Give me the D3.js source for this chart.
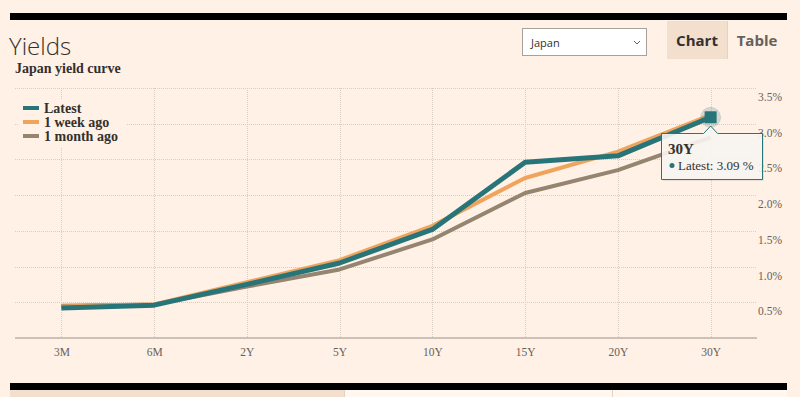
<!DOCTYPE html>
<html>
<head>
<meta charset="utf-8">
<script src="https://cdn.jsdelivr.net/npm/d3@7"></script>
<style>
  html, body { margin: 0; padding: 0; background: #fff1e5; }
  svg { display: block; }
</style>
</head>
<body>
<div id="chart"></div>
<script>
const tenors = ['3M', '6M', '2Y', '5Y', '10Y', '15Y', '20Y', '30Y'];
const latest = [0.42, 0.46, 0.75, 1.05, 1.52, 2.46, 2.55, 3.09];
const weekAgo = [0.44, 0.47, 0.78, 1.09, 1.57, 2.24, 2.61, 3.12];
const monthAgo = [0.45, 0.47, 0.72, 0.96, 1.38, 2.03, 2.35, 2.81];
const yTicks = [0.5, 1, 1.5, 2, 2.5, 3, 3.5];
const seriesNames = ['Latest', '1 week ago', '1 month ago'];
const seriesColors = ['#277479', '#f0a35c', '#958570'];

const W = 800, H = 397;
const serif = "Georgia, 'Liberation Serif', serif";
const sans = "'Open Sans', 'Noto Sans', sans-serif";

const svg = d3.select('#chart').append('svg')
  .attr('width', W)
  .attr('height', H);

svg.append('rect').attr('width', W).attr('height', H).attr('fill', '#fff1e5');

// header
svg.append('rect').attr('x', 10).attr('y', 13).attr('width', 777).attr('height', 7).attr('fill', '#000');
svg.append('text').attr('x', 9).attr('y', 55)
  .attr('font-family', sans).attr('font-weight', 300).attr('font-size', 24)
  .attr('fill', '#33302e').text('Yields');
svg.append('text').attr('x', 15).attr('y', 73)
  .attr('font-family', serif).attr('font-weight', 'bold').attr('font-size', 14)
  .attr('fill', '#33302e').text('Japan yield curve');

// dropdown
svg.append('rect').attr('x', 522.5).attr('y', 28.5).attr('width', 124).attr('height', 27)
  .attr('fill', '#fff').attr('stroke', '#a7a19b');
svg.append('text').attr('x', 531).attr('y', 47)
  .attr('font-family', sans).attr('font-size', 11).attr('fill', '#33302e').text('Japan');
svg.append('path').attr('d', 'M634,41 l3,3 l3,-3')
  .attr('fill', 'none').attr('stroke', '#66605c').attr('stroke-width', 1);

// tabs
svg.append('rect').attr('x', 667).attr('y', 21).attr('width', 60).attr('height', 38).attr('fill', '#f2dfce');
svg.append('line').attr('x1', 727.5).attr('x2', 727.5).attr('y1', 21).attr('y2', 59).attr('stroke', '#e6d2c0');
svg.append('text').attr('x', 697).attr('y', 46).attr('text-anchor', 'middle')
  .attr('font-family', sans).attr('font-weight', 'bold').attr('font-size', 15)
  .attr('fill', '#33302e').text('Chart');
svg.append('text').attr('x', 757).attr('y', 46).attr('text-anchor', 'middle')
  .attr('font-family', sans).attr('font-weight', 'bold').attr('font-size', 15)
  .attr('fill', '#66605c').text('Table');

// scales
const plotLeft = 15, plotRight = 757, plotTop = 88, plotBottom = 338;
const x = d3.scalePoint().domain(tenors).range([plotLeft, plotRight]).padding(0.5);
const y = d3.scaleLinear().domain([0, 3.5]).range([plotBottom, plotTop]);

// grid
const grid = svg.append('g');
grid.selectAll('line.h').data(yTicks).join('line')
  .attr('x1', plotLeft).attr('x2', plotRight)
  .attr('y1', d => Math.round(y(d)) + 0.5).attr('y2', d => Math.round(y(d)) + 0.5)
  .attr('stroke', '#d8cdc2').attr('stroke-dasharray', '1,1');
grid.selectAll('line.v').data(tenors).join('line')
  .attr('x1', d => Math.round(x(d)) + 0.5).attr('x2', d => Math.round(x(d)) + 0.5)
  .attr('y1', plotTop).attr('y2', plotBottom)
  .attr('stroke', '#d8cdc2').attr('stroke-dasharray', '1,1');

// y labels
svg.selectAll('text.ylab').data(yTicks).join('text')
  .attr('x', 758).attr('y', d => y(d) + 13)
  .attr('font-family', serif).attr('font-size', 11.5).attr('fill', '#66605c')
  .text(d => d3.format('.1f')(d) + '%');

// x axis
const xAxis = svg.append('g')
  .attr('transform', `translate(0,${plotBottom})`)
  .call(d3.axisBottom(x).tickSize(0).tickPadding(10));
xAxis.select('.domain').attr('stroke', '#ccc1b7').attr('stroke-width', 2)
  .attr('d', `M${plotLeft},0H${plotRight}`);
xAxis.selectAll('text').attr('font-family', serif).attr('font-size', 11.5).attr('fill', '#66605c');

// lines
const line = d3.line().x((d, i) => x(tenors[i])).y(d => y(d));
const seriesData = [monthAgo, weekAgo, latest];
const order = [2, 1, 0];
svg.append('g').selectAll('path').data(seriesData).join('path')
  .attr('d', d => line(d))
  .attr('fill', 'none')
  .attr('stroke', (d, i) => seriesColors[order[i]])
  .attr('stroke-width', (d, i) => i === 2 ? 5 : 4)
  .attr('stroke-linejoin', 'round');

// legend
const legend = svg.append('g');
legend.append('rect').attr('x', 18).attr('y', 100).attr('width', 108).attr('height', 47).attr('fill', '#fff1e5');
const items = legend.selectAll('g').data(seriesNames).join('g')
  .attr('transform', (d, i) => `translate(23,${108 + i * 14})`);
items.append('rect').attr('x', 0).attr('y', -2).attr('width', 16).attr('height', 4)
  .attr('fill', (d, i) => seriesColors[i]);
items.append('text').attr('x', 21).attr('y', 4.5)
  .attr('font-family', serif).attr('font-weight', 'bold').attr('font-size', 14)
  .attr('fill', '#33302e').text(d => d);

// hover marker on 30Y
const last = tenors.length - 1;
const mx = x(tenors[last]), my = y(latest[last]);
svg.append('circle').attr('cx', mx).attr('cy', my).attr('r', 10)
  .attr('fill', '#277479').attr('fill-opacity', 0.2)
  .attr('stroke', '#277479').attr('stroke-opacity', 0.15);
svg.append('rect').attr('x', mx - 6).attr('y', my - 6).attr('width', 12).attr('height', 12)
  .attr('fill', '#277479');

// tooltip
const tip = svg.append('g').attr('transform', `translate(661,133)`);
const tw = 101, th = 46, px = mx - 661;
const tipPath = `M0.5,0.5H${px - 7}L${px},-7L${px + 7},0.5H${tw}.5V${th}.5H0.5Z`;
tip.append('path').attr('d', tipPath)
  .attr('transform', 'translate(1.5,1.5)')
  .attr('fill', '#000').attr('fill-opacity', 0.08);
tip.append('path').attr('d', tipPath)
  .attr('fill', '#f9f6f2').attr('fill-opacity', 0.9)
  .attr('stroke', '#277479').attr('stroke-width', 1);
tip.append('text').attr('x', 7).attr('y', 21)
  .attr('font-family', serif).attr('font-weight', 'bold').attr('font-size', 15)
  .attr('fill', '#33302e').text(tenors[last]);
tip.append('circle').attr('cx', 11).attr('cy', 32.5).attr('r', 2.5).attr('fill', '#277479');
tip.append('text').attr('x', 17).attr('y', 37)
  .attr('font-family', serif).attr('font-size', 13)
  .attr('fill', '#33302e').text(seriesNames[0] + ': ' + latest[last].toFixed(2) + ' %');

// footer
svg.append('rect').attr('x', 10).attr('y', 383).attr('width', 777).attr('height', 7).attr('fill', '#000');
svg.append('rect').attr('x', 10).attr('y', 390).attr('width', 334).attr('height', 7).attr('fill', '#f2dfce');
svg.append('rect').attr('x', 344).attr('y', 390).attr('width', 443).attr('height', 7).attr('fill', '#fff7f0');
svg.append('line').attr('x1', 344.5).attr('x2', 344.5).attr('y1', 390).attr('y2', 397).attr('stroke', '#e6d2c0');
svg.append('line').attr('x1', 612.5).attr('x2', 612.5).attr('y1', 390).attr('y2', 397).attr('stroke', '#e6d2c0');
</script>
</body>
</html>
